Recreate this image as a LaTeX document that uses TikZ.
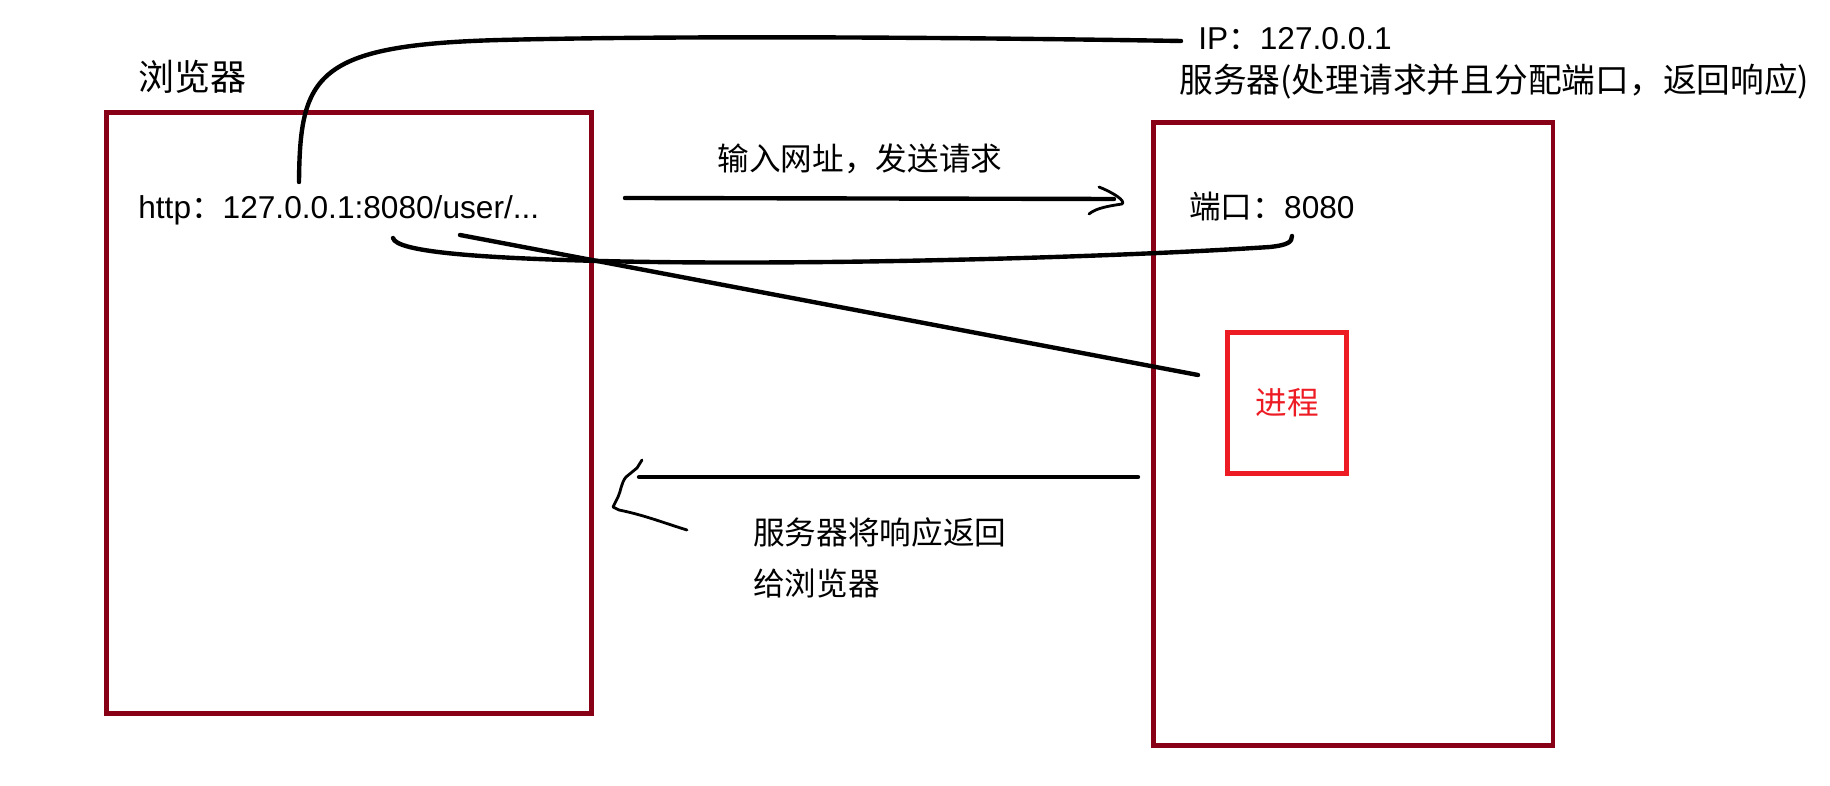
\documentclass[tikz,border=0pt]{standalone}
\usepackage{fontspec}
\setmainfont{Liberation Sans}
\newfontfamily\cjk{Noto Sans CJK SC}
\definecolor{boxred}{RGB}{136,0,21}
\definecolor{procred}{RGB}{237,28,36}

\begin{document}
\begin{tikzpicture}
[x=0.02cm,y=-0.02cm,
 box/.style={draw=boxred,line width=2.8pt,inner sep=0pt},
 proc/.style={draw=procred,text=procred,line width=2.6pt,font=\cjk\fontsize{18}{22}\selectfont},
 big/.style={inner sep=0pt,font=\cjk\fontsize{19.2}{23}\selectfont},
 txt/.style={inner sep=0pt,font=\fontsize{18}{21}\selectfont},
 ctxt/.style={inner sep=0pt,font=\cjk\fontsize{18}{29}\selectfont},
 wire/.style={line width=2.5pt,line cap=round},
 hand/.style={line width=1.6pt,line cap=round,line join=round}]

\useasboundingbox (0,0) rectangle (1830,786);

%Boxes
\node (browser) at (349,413) [box,minimum width=9.72cm,minimum height=12.04cm] {};
\node (server) at (1353,434) [box,minimum width=8cm,minimum height=12.46cm] {};
\node (proc) at (1287,403) [proc,minimum width=2.38cm,minimum height=2.82cm] {进程};

%Labels
\node (browserlbl) at (138,77) [big,anchor=west,font=\cjk\fontsize{20.5}{24}\selectfont] {浏览器};
\node (serverlbl) at (1179,82) [big,anchor=west] {服务器(处理请求并且分配端口，返回响应)};
\node (ip) at (1198,39) [txt,anchor=west] {IP{\cjk ：}127.0.0.1};
\node (url) at (138,210) [txt,anchor=west] {http{\cjk ：}127.0.0.1:8080/user/...};
\node (port) at (1189,207) [txt,anchor=west] {{\cjk 端口：}8080};
\node (reqlbl) at (860,159) [ctxt] {输入网址，发送请求};
\node (resplbl) at (753,558) [ctxt,anchor=west,align=left] {服务器将响应返回\\给浏览器};

%Line ends
\coordinate (ipfoot) at (299,182);
\coordinate (ipend) at (1181,41);
\coordinate (portfoot) at (393,238);
\coordinate (portend) at (1292,236);
\coordinate (pathfoot) at (460,235);
\coordinate (pathend) at (1198,375);
\coordinate (reqstart) at (625,198);
\coordinate (reqend) at (1114,199);
\coordinate (respstart) at (1138,477);
\coordinate (respend) at (639,477);

%IP, port and path
\draw[wire] (ipfoot) .. controls (300,75) and (315,45) .. (500,40) .. controls (700,35) and (1000,38) .. (ipend);
\draw[wire] (portfoot) .. controls (396,252) and (480,258) .. (600,261) .. controls (800,266) and (1100,258) .. (1270,247) .. controls (1288,245) and (1292,242) .. (portend);
\draw[wire] (pathfoot) -- (pathend);

%Request and response
\draw[wire] (reqstart) -- (reqend);
\draw[hand] ([shift={(-15,-12)}]reqend) .. controls ([shift={(0,-6)}]reqend) and ([shift={(12,2)}]reqend) .. ([shift={(8,5)}]reqend) .. controls ([shift={(-5,7)}]reqend) and ([shift={(-18,9)}]reqend) .. ([shift={(-25,15)}]reqend);
\draw[wire] (respstart) -- (respend);
\draw[hand] ([shift={(3,-17)}]respend) -- ([shift={(-2,-9)}]respend) -- ([shift={(-13,0)}]respend) .. controls ([shift={(-18,6)}]respend) and ([shift={(-18,14)}]respend) .. ([shift={(-21,20)}]respend) -- ([shift={(-26,30)}]respend) -- ([shift={(-20,33)}]respend) .. controls ([shift={(5,38)}]respend) and ([shift={(25,46)}]respend) .. ([shift={(48,53)}]respend);
\end{tikzpicture}
\end{document}
